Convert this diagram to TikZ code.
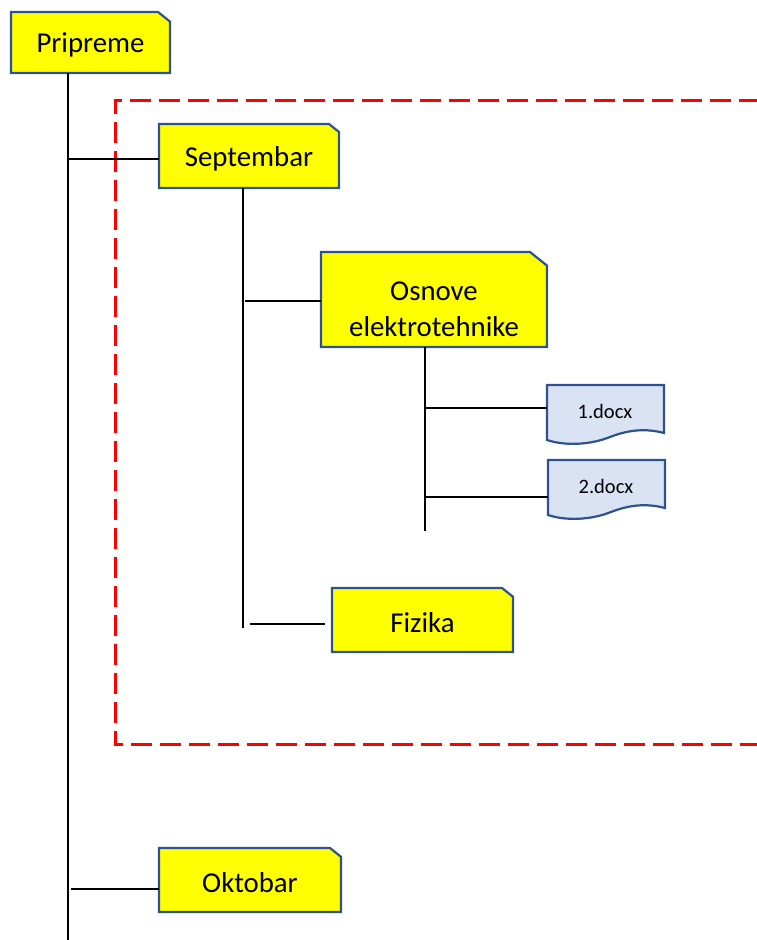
\documentclass[tikz,border=0pt]{standalone}
\usepackage{fontspec}
\setmainfont{Carlito}
\definecolor{bordblue}{HTML}{2F528F}
\definecolor{docfill}{HTML}{DAE3F3}
\definecolor{folderyellow}{HTML}{FFFF00}
\begin{document}
\begin{tikzpicture}[x=1pt,y=-1pt,
  lbl/.style={draw=none, inner sep=0pt, align=center, font=\fontsize{28.8}{36}\selectfont},
  doclbl/.style={draw=none, inner sep=0pt, font=\fontsize{20.5}{24}\selectfont},
  folder/.style={draw=bordblue, fill=folderyellow, line width=2.2pt, line join=miter},
  docshape/.style={draw=bordblue, fill=docfill, line width=2.2pt},
  conn/.style={draw=black, line width=1.3pt},
  frame/.style={draw=red, line width=3pt, dash pattern=on 21pt off 8pt}]
\useasboundingbox (0,0) rectangle (756,940);

% dashed frame
\draw[frame] (760,100) -- (115,100) -- (115,744) -- (760,744);

% folders
\newcommand{\folderbox}[6]{% name, left, top, right, bottom, cut
  \draw[folder] (#2,#3) -- ({#4-#6},#3) -- (#4,{#3+#6*0.8}) -- (#4,#5) -- (#2,#5) -- cycle;
}
\folderbox{pri}{11}{12}{170}{73}{12}
\folderbox{sep}{159}{124}{339}{188}{10}
\folderbox{osn}{321}{252}{547}{347}{17}
\folderbox{fiz}{332}{588}{513}{652}{11}
\folderbox{okt}{159}{848}{341}{912}{11}

\node[lbl] (pri) at (90.5,45) {Pripreme};
\node[lbl] (sep) at (249,159) {Septembar};
\node[lbl] (osn) at (434,309) {Osnove\\elektrotehnike};
\node[lbl] (fiz) at (422.5,623) {Fizika};
\node[lbl] (okt) at (250,883) {Oktobar};

% documents
\draw[docshape] (547,385) -- (664,385) -- (664,433)
  .. controls (645,428) and (628,430) .. (610,437)
  .. controls (590,445) and (565,446) .. (547,440) -- cycle;
\draw[docshape] (548,460) -- (665,460) -- (665,508)
  .. controls (646,503) and (629,505) .. (611,512)
  .. controls (591,520) and (566,521) .. (548,515) -- cycle;
\node[doclbl] (d1) at (605,411) {1.docx};
\node[doclbl] (d2) at (606,486) {2.docx};

% connector coordinates
\coordinate (trunktop) at (68,73);
\coordinate (trunkend) at (68,940);
\coordinate (sepjoin) at (69,159);
\coordinate (septop) at (243,188);
\coordinate (sepend) at (243,628);
\coordinate (osnjoin) at (245,301);
\coordinate (fizjoin) at (250,624);
\coordinate (osntop) at (425,347);
\coordinate (osnend) at (425,531);
\coordinate (d1join) at (425,408);
\coordinate (d2join) at (425,497);
\coordinate (oktjoin) at (71,889);
\coordinate (sepL) at (159,159);
\coordinate (osnL) at (321,301);
\coordinate (fizL) at (325,624);
\coordinate (d1L) at (547,408);
\coordinate (d2L) at (548,497);
\coordinate (oktL) at (159,889);

\draw[conn] (trunktop) -- (trunkend);
\draw[conn] (sepjoin) -- (sepL);
\draw[conn] (septop) -- (sepend);
\draw[conn] (osnjoin) -- (osnL);
\draw[conn] (fizjoin) -- (fizL);
\draw[conn] (osntop) -- (osnend);
\draw[conn] (d1join) -- (d1L);
\draw[conn] (d2join) -- (d2L);
\draw[conn] (oktjoin) -- (oktL);
\end{tikzpicture}
\end{document}
